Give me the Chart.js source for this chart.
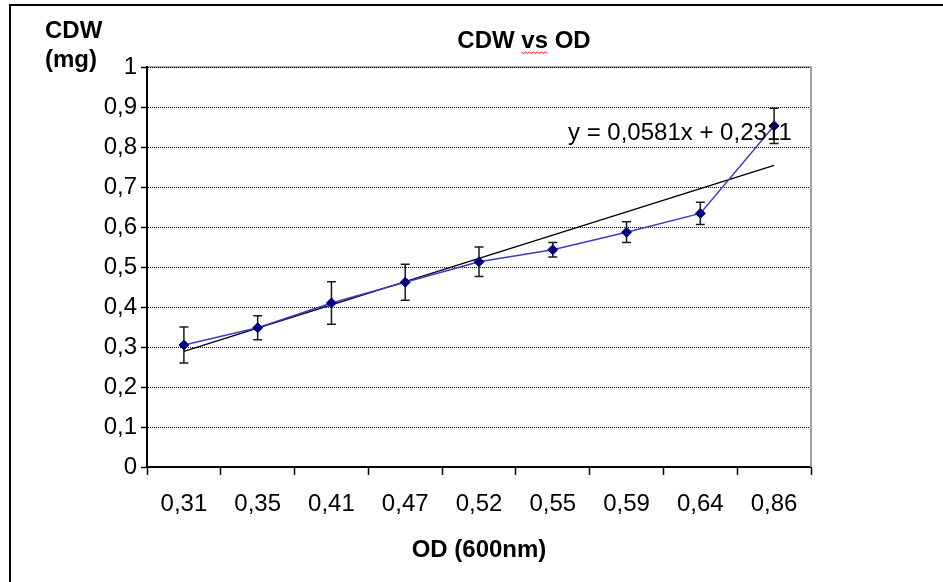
<!DOCTYPE html>
<html><head><meta charset="utf-8">
<script src="https://cdn.jsdelivr.net/npm/chart.js@4.4.0/dist/chart.umd.min.js"></script>
<style>html,body{margin:0;padding:0;background:#fff}#wrap{width:943px;height:582px;position:relative}</style>
</head><body><div id="wrap"><canvas id="c" width="943" height="582"></canvas></div>
<script>
// ---- data ----
const categories = ['0,31','0,35','0,41','0,47','0,52','0,55','0,59','0,64','0,86'];
const cdwValues  = [0.305, 0.348, 0.410, 0.462, 0.513, 0.543, 0.587, 0.634, 0.853];
const cdwErrors  = [0.045, 0.030, 0.053, 0.045, 0.037, 0.018, 0.026, 0.028, 0.044];
const trendValues = [0.289, null, null, null, null, null, null, null, 0.754];
const trendLabel = 'y = 0,0581x + 0,2311';
const seriesName = 'CDW';
const chartTitle = 'CDW vs OD';
const yAxisLabel = ['CDW', '(mg)'];
const xAxisLabel = 'OD (600nm)';

const FONT = "'Liberation Sans', Arial, sans-serif";

const extras = {
  id: 'extras',
  beforeDatasetsDraw(chart) {
    const {ctx, scales: {x, y}} = chart;
    ctx.save();
    ctx.strokeStyle = '#1a1a1a';
    ctx.lineWidth = 1.5;
    cdwValues.forEach((v, i) => {
      const px = x.getPixelForValue(i);
      const top = y.getPixelForValue(v + cdwErrors[i]);
      const bot = y.getPixelForValue(v - cdwErrors[i]);
      ctx.beginPath();
      ctx.moveTo(px, top); ctx.lineTo(px, bot);
      ctx.moveTo(px - 4.5, top); ctx.lineTo(px + 4.5, top);
      ctx.moveTo(px - 4.5, bot); ctx.lineTo(px + 4.5, bot);
      ctx.stroke();
    });
    ctx.restore();
  },
  beforeDraw(chart) {
    const {ctx, chartArea: ca} = chart;
    ctx.save();
    // plot area border (grey, top and right visible)
    ctx.strokeStyle = '#a8a8a8';
    ctx.lineWidth = 2;
    ctx.beginPath();
    ctx.moveTo(ca.left, ca.top); ctx.lineTo(ca.right, ca.top); ctx.lineTo(ca.right, ca.bottom);
    ctx.stroke();
    ctx.restore();
  },
  afterDraw(chart) {
    const {ctx, chartArea: ca} = chart;
    ctx.save();
    ctx.strokeStyle = '#a0a0a0';
    ctx.lineWidth = 2;
    ctx.beginPath(); ctx.moveTo(ca.right, ca.top); ctx.lineTo(ca.right, ca.bottom); ctx.stroke();
    // outer frame (top and left edges only, chart continues beyond the crop)
    ctx.strokeStyle = '#000';
    ctx.lineWidth = 2;
    ctx.beginPath();
    ctx.moveTo(10, 582); ctx.lineTo(10, 5); ctx.lineTo(943, 5);
    ctx.stroke();
    // title
    ctx.fillStyle = '#000';
    ctx.textBaseline = 'middle';
    ctx.textAlign = 'center';
    ctx.font = "bold 24px " + FONT;
    const tcx = 524;
    ctx.fillText(chartTitle, tcx, 41);
    // red squiggle under "vs"
    const tw = ctx.measureText(chartTitle).width;
    const pre = ctx.measureText('CDW ').width;
    const vsw = ctx.measureText('vs').width;
    const sx = tcx - tw / 2 + pre;
    ctx.strokeStyle = '#e02020';
    ctx.lineWidth = 1;
    ctx.beginPath();
    for (let k = 0; k <= vsw; k += 2) {
      const yy = 52 + ((k / 2) % 2 === 0 ? 0 : 1.5);
      if (k === 0) ctx.moveTo(sx + k, yy); else ctx.lineTo(sx + k, yy);
    }
    ctx.stroke();
    // y axis label
    ctx.textAlign = 'left';
    ctx.font = "bold 24px " + FONT;
    ctx.fillText(yAxisLabel[0], 45, 31);
    ctx.fillText(yAxisLabel[1], 45, 60);
    // trend equation
    ctx.font = "24px " + FONT;
    ctx.fillText(trendLabel, 568, 133);
    ctx.restore();
  }
};

const fmt = v => {
  const r = Math.round(v * 10) / 10;
  return String(r).replace('.', ',');
};

new Chart(document.getElementById('c'), {
  type: 'line',
  data: {
    labels: categories,
    datasets: [
      {label: seriesName, data: cdwValues, borderColor: '#3c3cc8', borderWidth: 1.5,
       pointStyle: 'rectRot', pointRadius: 5, pointBackgroundColor: '#000080',
       pointBorderColor: '#000080', pointBorderWidth: 1, tension: 0, order: 1},
      {label: 'Trend', data: trendValues, borderColor: '#000', borderWidth: 1.5,
       pointRadius: 0, spanGaps: true, tension: 0, order: 2}
    ]
  },
  options: {
    responsive: false, animation: false, devicePixelRatio: 1,
    layout: {padding: {left: 0, right: 132, top: 67, bottom: 0}},
    plugins: {legend: {display: false}, title: {display: false}, tooltip: {enabled: false}},
    scales: {
      x: {
        type: 'category', offset: true,
        grid: {offset: true, drawOnChartArea: false, drawTicks: true, tickLength: 8,
               tickColor: '#000', tickWidth: 1.5},
        border: {color: '#000', width: 2},
        ticks: {color: '#000', font: {family: FONT, size: 24}, padding: 15,
                maxRotation: 0, autoSkip: false},
        title: {display: true, text: xAxisLabel, color: '#000',
                font: {family: FONT, size: 24, weight: 'bold'}, padding: {top: 0, bottom: 17}},
        afterFit: s => { s.height = 115; }
      },
      y: {
        min: 0, max: 1,
        ticks: {stepSize: 0.1, color: '#000', font: {family: FONT, size: 24}, padding: 4,
                callback: v => fmt(v)},
        grid: {color: '#000', lineWidth: 1, tickColor: '#000', tickLength: 6, tickWidth: 1.5,
               tickBorderDash: []},
        border: {color: '#000', width: 2, dash: [1, 1]},
        afterFit: s => { s.width = 147; }
      }
    }
  },
  plugins: [extras]
});
</script>
</body></html>
